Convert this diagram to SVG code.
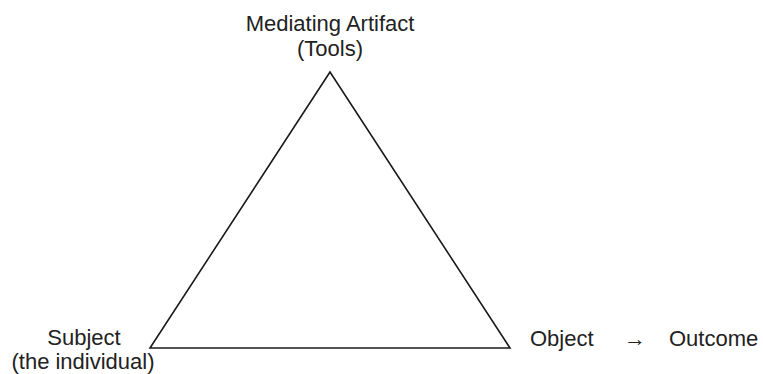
<svg xmlns="http://www.w3.org/2000/svg" width="763" height="374" viewBox="0 0 763 374">
<style>
text{font-family:"Liberation Sans",Arial,sans-serif;font-size:22px;fill:#222}
.mid{text-anchor:middle}
.edge{fill:none;stroke:#1a1a1a;stroke-width:1.6}
</style>
<rect width="763" height="374" fill="#fff"/>
<g id="connectors">
<polygon class="edge" points="330,72 150,348 510,348"/>
</g>
<g id="tool">
<text class="mid" x="330" y="31">Mediating Artifact</text>
<text class="mid" x="330" y="56">(Tools)</text>
</g>
<g id="subject">
<text class="mid" x="84" y="345">Subject</text>
<text class="mid" x="83" y="369">(the individual)</text>
</g>
<g id="object">
<text x="530" y="346">Object</text>
</g>
<g id="arrow">
<text class="mid" x="635" y="346">→</text>
</g>
<g id="outcome">
<text x="669" y="346">Outcome</text>
</g>
</svg>
